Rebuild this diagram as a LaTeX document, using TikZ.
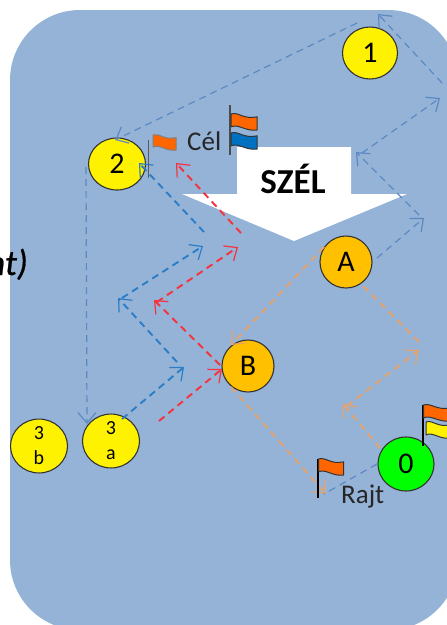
\documentclass[tikz,border=0pt]{standalone}
\usepackage{fontspec}
\setmainfont{Carlito}
\newfontfamily\cutfont{Carlito}[ItalicFeatures={FakeBold=0.7}]
\usetikzlibrary{arrows.meta,shapes.geometric}
\definecolor{sea}{HTML}{95B3D7}
\definecolor{thinblue}{HTML}{5B8AC2}
\definecolor{midblue}{HTML}{2A7DC6}
\definecolor{redline}{HTML}{F5333F}
\definecolor{orangeline}{HTML}{E6A36C}
\definecolor{mark}{HTML}{FFC000}
\definecolor{flagorange}{HTML}{FF6600}
\definecolor{flagblue}{HTML}{0070C0}
\definecolor{outline}{HTML}{333333}
\tikzset{
  buoy/.style={ellipse,draw=outline,fill=yellow,line width=1.1pt,inner sep=0pt,minimum width=56pt,minimum height=52pt,text=black,font=\fontsize{30}{30}\selectfont},
  smallbuoy/.style={buoy,font=\fontsize{20}{25}\selectfont,align=center},
  lbl/.style={inner sep=0pt,anchor=base west,text=black!85,font=\fontsize{27}{27}\selectfont},
  leg/.style={dash pattern=on 7pt off 5pt,-{Straight Barb[length=10.5pt,width=18pt,line width=1.2pt]}},
  thinleg/.style={leg,draw=thinblue,line width=1.2pt},
  blueleg/.style={leg,draw=midblue,line width=1.9pt},
  redleg/.style={leg,draw=redline,line width=1.9pt},
  orangeleg/.style={leg,draw=orangeline,line width=1.9pt},
  plainleg/.style={dash pattern=on 7pt off 5pt,line width=1.2pt},
}
\newcommand{\wflag}[6]{% x, y, w, h, colour, outline
  \draw[fill=#5,draw=#6,line width=1pt]
    (#1,#2) .. controls ({#1+.3*#3},{#2-.15*#4}) and ({#1+.45*#3},{#2+.35*#4}) .. ({#1+#3},{#2+.18*#4})
    -- ({#1+#3},{#2+#4}) .. controls ({#1+.55*#3},{#2+1.1*#4}) and ({#1+.3*#3},{#2+.6*#4}) .. (#1,{#2+.8*#4}) -- cycle;}
\begin{document}
\begin{tikzpicture}[x=1pt,y=-1pt]
\useasboundingbox (0,0) rectangle (447,625);
\fill[sea,rounded corners=70pt] (10,10) rectangle (458,630);
\node[anchor=base east,inner sep=0pt,text=black,font=\fontsize{36}{36}\cutfont\itshape] (cut) at (28,275) {nt)};
% wind arrow
\fill[white] (237,147) -- (351,147) -- (351,194) -- (407,194) -- (294,241) -- (182,194) -- (237,194) -- cycle;
\node[inner sep=0pt,anchor=base,text=black,font=\fontsize{35}{35}\selectfont\bfseries] (wind) at (293,193) {SZÉL};
% buoys
\node[buoy,minimum width=55pt] (n1) at (370,53) {1};
\node[buoy,minimum width=57pt] (n2) at (117,164) {2};
\node[buoy,fill=mark,minimum width=52pt] (nA) at (346,262) {A};
\node[buoy,fill=mark,minimum width=52pt] (nB) at (248,366) {B};
\node[smallbuoy,minimum width=57pt] (n3a) at (111,441) {3\\a};
\node[smallbuoy,minimum width=57pt] (n3b) at (39,446) {3\\b};
\node[buoy,fill=green,minimum height=54pt] (n0) at (406,464) {0};
% waypoints
\coordinate (t1) at (357,23);  \coordinate (t2) at (115,140);
\coordinate (u1) at (442,83);  \coordinate (u2) at (378,14);
\coordinate (v1) at (362,153); \coordinate (v2) at (440,98);
\coordinate (w1) at (419,215); \coordinate (w2) at (356,152);
\coordinate (x1) at (377,258); \coordinate (x2) at (424,218);
\coordinate (y1) at (86,167);  \coordinate (y2) at (87,424);
\coordinate (b1) at (122,419); \coordinate (b2) at (184,367);
\coordinate (b3) at (177,362); \coordinate (b4) at (118,298);
\coordinate (b5) at (122,298); \coordinate (b6) at (203,246);
\coordinate (b7) at (204,232); \coordinate (b8) at (139,163);
\coordinate (r1) at (159,421); \coordinate (r2) at (222,369);
\coordinate (r3) at (220,365); \coordinate (r4) at (154,300);
\coordinate (r5) at (157,302); \coordinate (r6) at (238,247);
\coordinate (r7) at (241,233); \coordinate (r8) at (176,163);
\coordinate (o1) at (380,448); \coordinate (o2) at (343,404);
\coordinate (o3) at (347,406); \coordinate (o4) at (419,350);
\coordinate (o5) at (419,342); \coordinate (o6) at (362,285);
\coordinate (o7) at (324,247); \coordinate (o8) at (231,345);
\coordinate (o9) at (231,387); \coordinate (o10) at (326,494);
\coordinate (o11) at (377,464); \coordinate (o12) at (324,494);
% legs
\draw[thinleg] (t1) -- (t2);
\draw[thinleg] (u1) -- (u2);
\draw[thinleg] (v1) -- (v2);
\draw[thinleg] (w1) -- (w2);
\draw[thinleg] (x1) -- (x2);
\draw[thinleg] (y1) -- (y2);
\draw[blueleg] (b1) -- (b2);
\draw[blueleg] (b3) -- (b4);
\draw[blueleg] (b5) -- (b6);
\draw[blueleg] (b7) -- (b8);
\draw[redleg] (r1) -- (r2);
\draw[redleg] (r3) -- (r4);
\draw[redleg] (r5) -- (r6);
\draw[redleg] (r7) -- (r8);
\draw[orangeleg] (o1) -- (o2);
\draw[orangeleg] (o3) -- (o4);
\draw[orangeleg,-] (o5) -- (o6);
\draw[orangeleg] (o7) -- (o8);
\draw[orangeleg] (o9) -- (o10);
\draw[plainleg,draw=thinblue] (o11) -- (o12);
% flags
\draw[gray!70!black,line width=1pt] (148,140) -- (148,178);
\wflag{153}{135}{23}{15}{flagorange}{gray}
\draw[black!70,line width=1.2pt] (230,105) -- (230,155);
\wflag{231}{114}{26}{16}{flagorange}{black!80}
\wflag{231}{133}{26}{16}{flagblue}{black!80}
\draw[black,line width=1.2pt] (318,459) -- (318,498);
\wflag{318.5}{459}{25}{16}{flagorange}{black!80}
\draw[black,line width=1.4pt] (423,405) -- (423,446);
\wflag{423.5}{405}{27}{16}{flagorange}{black!80}
\wflag{426}{422}{24}{16}{yellow}{black!80}
% labels
\node[lbl] (cel) at (187,150) {Cél};
\node[lbl] (rajt) at (341,503) {Rajt};
\end{tikzpicture}
\end{document}
